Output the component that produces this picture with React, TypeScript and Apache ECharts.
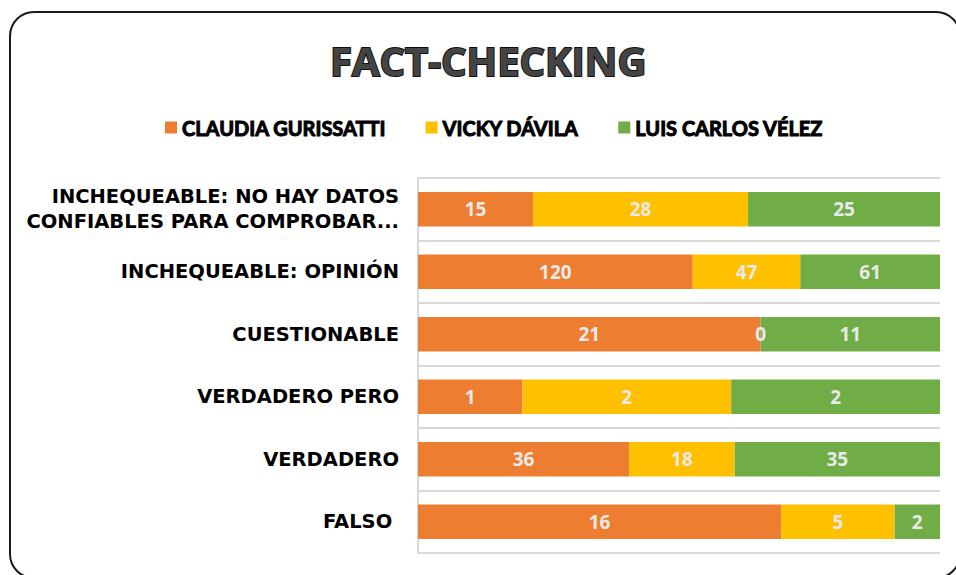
import React, { useEffect, useRef } from "react";
import * as echarts from "echarts";

const categories = [
  "INCHEQUEABLE: NO HAY DATOS\nCONFIABLES PARA COMPROBAR...",
  "INCHEQUEABLE: OPINIÓN",
  "CUESTIONABLE",
  "VERDADERO PERO",
  "VERDADERO",
  "FALSO ",
];
const seriesNames = ["CLAUDIA GURISSATTI", "VICKY DÁVILA", "LUIS CARLOS VÉLEZ"];
const claudia = [15, 120, 21, 1, 36, 16];
const vicky = [28, 47, 0, 2, 18, 5];
const luis = [25, 61, 11, 2, 35, 2];
const colors = ["#ED7D31", "#FFC000", "#70AD47"];

export default function App() {
  const ref = useRef<HTMLDivElement>(null);
  useEffect(() => {
    if (!ref.current) return;
    const chart = echarts.init(ref.current, null, { renderer: "svg" });
    const raw = [claudia, vicky, luis];
    const totals = categories.map((_, i) => claudia[i] + vicky[i] + luis[i]);
    const series = raw.map((vals, s) => ({
      name: seriesNames[s],
      type: "bar",
      stack: "total",
      barCategoryGap: "45%",
      itemStyle: { color: colors[s] },
      label: {
        show: true,
        position: "inside",
        color: "#e9e9e9",
        fontFamily: "Open Sans",
        fontWeight: "bold",
        fontSize: 19,
        formatter: (p: any) => String(vals[p.dataIndex]),
      },
      data: vals.map((v, i) => (v / totals[i]) * 100),
    }));
    chart.setOption({
      animation: false,
      backgroundColor: "#ffffff",
      title: {
        text: "FACT-CHECKING",
        left: 325,
        top: 35,
        textStyle: {
          fontFamily: "Open Sans",
          fontWeight: "bold",
          fontSize: 40,
          color: "#444444",
          textBorderColor: "#111",
          textBorderWidth: 2,
        },
      },
      legend: {
        left: 160,
        top: 112,
        itemWidth: 12,
        itemHeight: 12,
        itemGap: 39,
        icon: "rect",
        textStyle: {
          fontFamily: "Lato",
          fontWeight: "bold",
          fontSize: 20,
          color: "#000",
          textBorderColor: "#000",
          textBorderWidth: 1,
        },
        data: seriesNames,
      },
      graphic: [
        {
          type: "rect",
          shape: { x: 10, y: 12, width: 950, height: 566, r: 24 },
          style: { fill: "none", stroke: "#1a1a1a", lineWidth: 2 },
          silent: true,
          z: 100,
        },
      ],
      grid: { left: 418, right: 16, top: 178, bottom: 22 },
      xAxis: {
        type: "value",
        min: 0,
        max: 100,
        show: false,
        splitLine: { show: false },
      },
      yAxis: {
        type: "category",
        inverse: true,
        data: categories,
        axisTick: { show: false },
        axisLine: { show: true, lineStyle: { color: "#d9d9d9", width: 2 } },
        splitLine: { show: true, lineStyle: { color: "#d9d9d9", width: 2 } },
        axisLabel: {
          margin: 19,
          fontFamily: "DejaVu Sans",
          fontWeight: "bold",
          fontSize: 19.5,
          lineHeight: 25,
          color: "#000",
        },
      },
      series,
    });
    return () => chart.dispose();
  }, []);
  return (
    <div
      ref={ref}
      style={{ position: "absolute", left: 0, top: 0, width: 956, height: 575 }}
    />
  );
}
